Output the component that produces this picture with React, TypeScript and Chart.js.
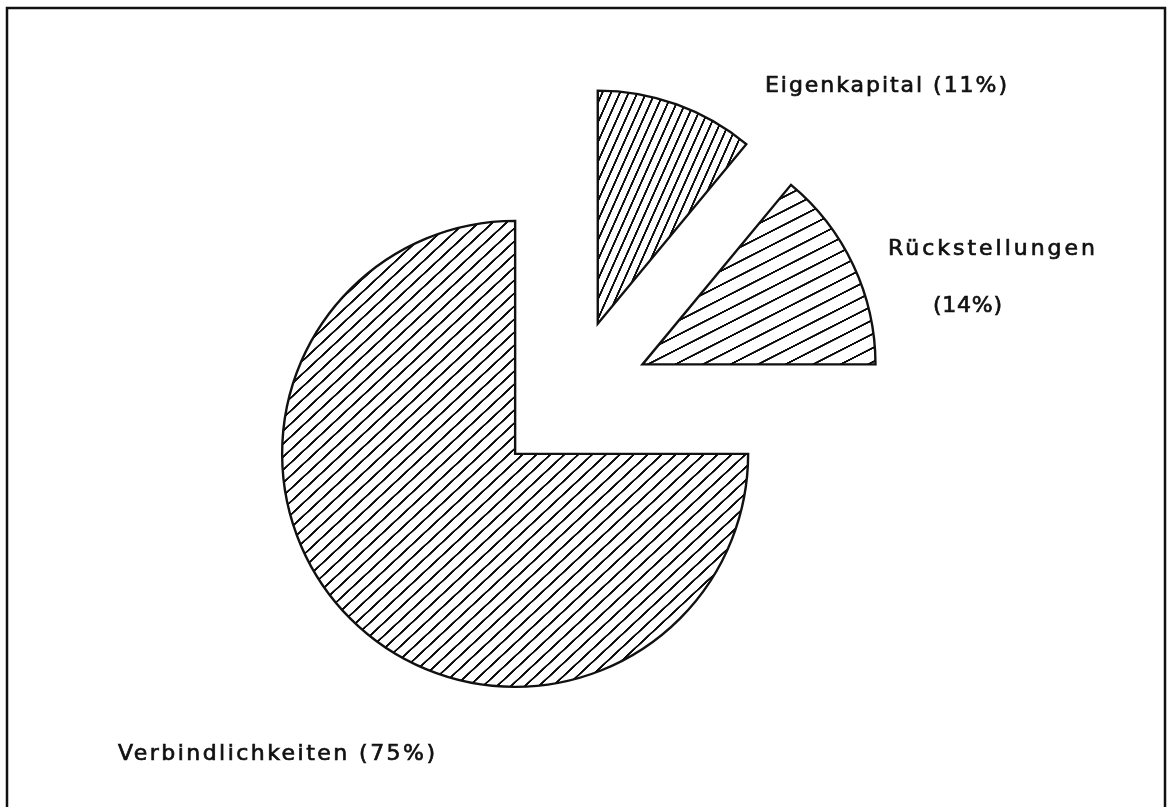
import React, { useEffect, useRef } from 'react';
import { Chart, registerables } from 'chart.js';

Chart.register(...registerables);

// ---- data ----
const categories = ['Eigenkapital', 'Rückstellungen', 'Verbindlichkeiten'];
const shares = [11, 14, 75];
// hatch style per slice: line angle (deg from horizontal) and line spacing (px)
const hatchAngles = [66, 27, 43];
const hatchSpacing = [8, 12.5, 9.5];

const W = 1175;
const H = 807;

function makeHatch(angle: number, spacing: number, lineWidth: number) {
  const k = 4;
  const size = Math.round(spacing * k);
  const c = document.createElement('canvas');
  c.width = size;
  c.height = size;
  const g = c.getContext('2d')!;
  g.fillStyle = '#ffffff';
  g.fillRect(0, 0, size, size);
  g.fillStyle = '#0a0a0a';
  g.fillRect(0, size / 2 - (lineWidth * k) / 2, size, lineWidth * k);
  const pat = g.createPattern(c, 'repeat')!;
  pat.setTransform(new DOMMatrix().rotateSelf(-angle).scaleSelf(1 / k));
  return pat;
}

const explodePlugin = {
  id: 'explode',
  afterDatasetsUpdate(chart: any, _args: any, opts: any) {
    const meta = chart.getDatasetMeta(0);
    meta.data.forEach((arc: any) => {
      const mid = (arc.startAngle + arc.endAngle) / 2;
      arc.x += Math.cos(mid) * opts.distance;
      arc.y += Math.sin(mid) * opts.distance;
    });
  },
};

const framePlugin = {
  id: 'frame',
  afterDraw(chart: any) {
    const ctx = chart.ctx;
    ctx.save();
    ctx.strokeStyle = '#111';
    ctx.lineWidth = 2.5;
    ctx.beginPath();
    ctx.moveTo(7, H);
    ctx.lineTo(7, 8);
    ctx.lineTo(1165, 8);
    ctx.lineTo(1165, H);
    ctx.stroke();
    ctx.restore();
  },
};

const labelPlugin = {
  id: 'sliceLabels',
  afterDraw(chart: any, _args: any, opts: any) {
    const ctx = chart.ctx;
    const labels = chart.data.labels as string[];
    const data = chart.data.datasets[0].data as number[];
    ctx.save();
    ctx.fillStyle = '#111';
    ctx.strokeStyle = '#111';
    ctx.lineWidth = 0.7;
    ctx.font = opts.font;
    ctx.textBaseline = 'alphabetic';
    ctx.textAlign = 'left';
    opts.placements.forEach((rows: any[], i: number) => {
      rows.forEach((row) => {
        const pct = `(${data[i]}%)`;
        const text =
          row.part === 'name' ? labels[i] : row.part === 'pct' ? pct : `${labels[i]} ${pct}`;
        (ctx as any).letterSpacing = '0px';
        const w0 = ctx.measureText(text).width;
        const n = Array.from(text).length;
        const ls = n > 1 ? (row.w - w0) / (n - 1) : 0;
        (ctx as any).letterSpacing = `${ls}px`;
        ctx.fillText(text, row.x, row.y);
        ctx.strokeText(text, row.x, row.y);
      });
    });
    ctx.restore();
  },
};

export default function App() {
  const ref = useRef<HTMLCanvasElement | null>(null);

  useEffect(() => {
    document.body.style.margin = '0';
    document.body.style.background = '#fff';
    const canvas = ref.current!;
    const patterns = shares.map((_, i) => makeHatch(hatchAngles[i], hatchSpacing[i], 1.9));
    const chart = new Chart(canvas, {
      type: 'pie',
      data: {
        labels: categories,
        datasets: [
          {
            data: shares,
            backgroundColor: patterns as any,
            borderColor: '#111',
            borderWidth: 2.4,
            borderJoinStyle: 'miter',
            radius: 233,
          } as any,
        ],
      },
      options: {
        responsive: false,
        animation: false,
        events: [],
        radius: 233,
        rotation: 0,
        layout: { padding: { left: 0, right: 33, top: 0, bottom: 11 } },
        plugins: {
          legend: { display: false },
          tooltip: { enabled: false },
          title: { display: false },
          explode: { distance: 79 },
          sliceLabels: {
            font: '22px "DejaVu Sans", "Liberation Sans", sans-serif',
            placements: [
              [{ part: 'full', x: 765, y: 92, w: 242 }],
              [
                { part: 'name', x: 888, y: 255, w: 207 },
                { part: 'pct', x: 933, y: 312, w: 69 },
              ],
              [{ part: 'full', x: 118, y: 760, w: 317 }],
            ],
          },
        } as any,
      } as any,
      plugins: [explodePlugin, framePlugin, labelPlugin],
    });
    return () => chart.destroy();
  }, []);

  return (
    <div style={{ position: 'absolute', left: 0, top: 0, width: W, height: H, background: '#fff' }}>
      <canvas ref={ref} width={W} height={H} style={{ display: 'block' }} />
    </div>
  );
}
